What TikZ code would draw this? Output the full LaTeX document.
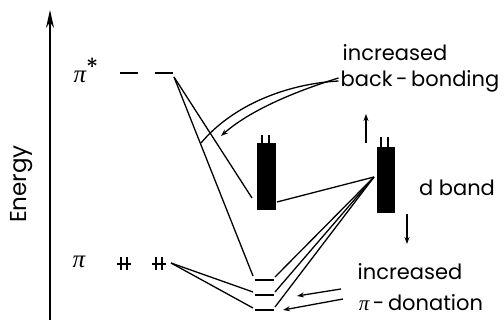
\documentclass[tikz,border=0pt]{standalone}
\usepackage{fontspec}
\setmainfont{Poppins}
\newfontfamily\grk{Liberation Serif}
\newcommand{\mypi}{{\grk\itshape π}}
\usetikzlibrary{arrows.meta}
\begin{document}
\begin{tikzpicture}[x=1pt,y=-1pt,
  conn/.style={line width=1.3pt},
  lvl/.style={line width=2.6pt},
  lbl/.style={font=\fontsize{21}{23}\selectfont, inner sep=0pt},
  band/.style={fill=black, draw=none},
  arr/.style={line width=1.3pt, -{Stealth[length=7pt,width=5pt]}}]
\useasboundingbox (0,0) rectangle (504,320);
% energy axis
\coordinate (ax0) at (50,320);
\coordinate (ax1) at (50,10);
\draw[line width=1.4pt, -{Stealth[length=18pt,width=8pt]}] (ax0) -- (ax1);
\node[lbl, rotate=90] (energy) at (22,184) {\fontsize{23}{25}\selectfont Energy};
% pi* level
\node[lbl] (pistar) at (86,70) {\fontsize{25}{27}\selectfont\mypi\raisebox{6pt}{*}};
\draw[lvl] (120,73) -- (138,73);
\draw[lvl] (155,73) -- (173,73);
\coordinate (ps) at (174,77);
% pi level
\node[lbl] (pi) at (79,262) {\fontsize{25}{27}\selectfont\mypi};
\foreach \x in {117,152}{
  \draw[line width=1.6pt] (\x,264) -- (\x+14,264);
  \draw[line width=1.6pt] (\x+4,257) -- (\x+4,270);
  \draw[line width=1.6pt] (\x+10,257) -- (\x+10,270);
}
\coordinate (pp) at (171,263);
% band 1
\node[band, minimum width=19pt, minimum height=67pt, inner sep=0pt] (b1) at (266.5,176.5) {};
\draw[line width=2.2pt] (262,135) -- (262,144);
\draw[line width=2.2pt] (269,135) -- (269,144);
% band 2
\node[band, minimum width=18pt, minimum height=66pt, inner sep=0pt] (b2) at (386,180) {};
\draw[line width=2.2pt] (381,137) -- (381,148);
\draw[line width=2.2pt] (388,137) -- (388,148);
% small levels
\draw[lvl] (255,280) -- (274,280);
\draw[lvl] (255,295) -- (274,295);
\draw[lvl] (255,310) -- (274,310);
\coordinate (l1a) at (253,276); \coordinate (l1b) at (275,277);
\coordinate (l2a) at (253,292); \coordinate (l2b) at (275,292);
\coordinate (l3a) at (253,308); \coordinate (l3b) at (275,307);
\coordinate (b1l) at (252,198);
\coordinate (b1r) at (277,202);
\coordinate (b2l) at (374,177);
% connectors
\draw[conn] (ps) -- (b1l);
\draw[conn] (ps) -- (l1a);
\draw[conn] (pp) -- (l2a);
\draw[conn] (pp) -- (l3a);
\draw[conn] (b2l) -- (b1r);
\draw[conn] (b2l) -- (l1b);
\draw[conn] (b2l) -- (l2b);
\draw[conn] (b2l) -- (l3b);
% texts
\node[lbl] (inc1) at (395,53) {increased};
\node[lbl] (bb) at (420,81) {back\,-\,bonding};
\node[lbl] (db) at (457,188) {d band};
\node[lbl] (inc2) at (410,272) {increased};
\node[lbl] (pd) at (421,303) {\mypi\,-\,donation};
% back-bonding arrow
\coordinate (c1) at (201,143);
\coordinate (c2) at (221,136);
\draw[line width=1.3pt] ([xshift=-2pt]bb.west) .. controls (285,84) and (232,106) .. (c1);
\draw[arr] ([xshift=-2pt,yshift=3pt]bb.west) .. controls (290,93) and (248,112) .. (c2);
% up / down arrows
\coordinate (u0) at (366,143); \coordinate (u1) at (366,114);
\coordinate (d0) at (407,214); \coordinate (d1) at (407,244);
\draw[arr] (u0) -- (u1);
\draw[arr] (d0) -- (d1);
% pi-donation arrows
\coordinate (p1s) at (341,289); \coordinate (p1e) at (297,296);
\coordinate (p2s) at (343,299); \coordinate (p2e) at (283,310);
\draw[arr] (p1s) -- (p1e);
\draw[arr] (p2s) -- (p2e);
\end{tikzpicture}
\end{document}
